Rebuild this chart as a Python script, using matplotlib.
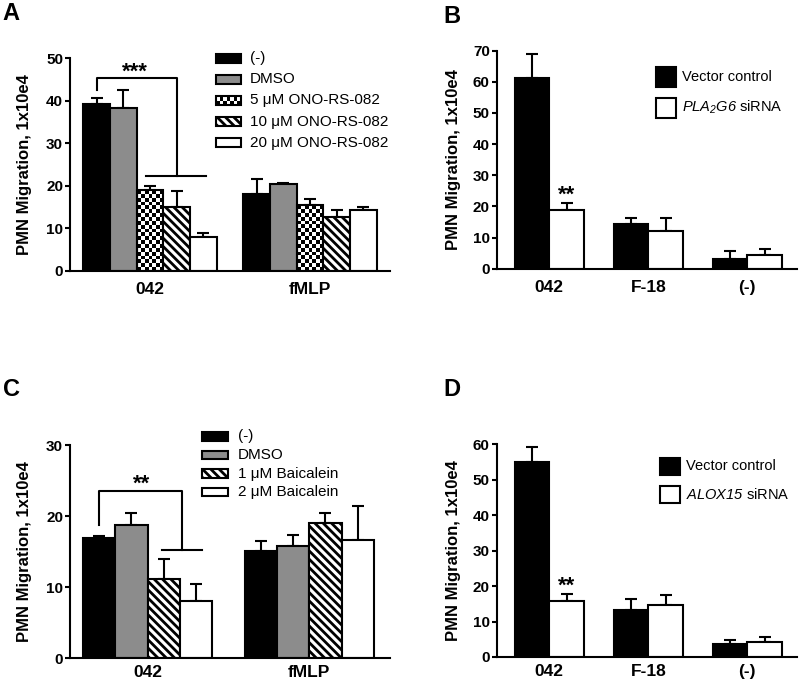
import numpy as np
import matplotlib
matplotlib.use("Agg")
import matplotlib.pyplot as plt
from matplotlib.patches import Rectangle

plt.rcParams['font.family'] = ['Liberation Sans', 'DejaVu Sans']
plt.rcParams['mathtext.fontset'] = 'custom'
# gene names are fully italic (digits too), so both math fonts are italic
plt.rcParams['mathtext.rm'] = 'Liberation Sans:italic'
plt.rcParams['mathtext.it'] = 'Liberation Sans:italic'
plt.rcParams['hatch.linewidth'] = 2.0

# ---- data ----
# panel A: treatments x groups
a_groups = ['042', 'fMLP']
a_treat = ['(-)', 'DMSO', '5 μM ONO-RS-082', '10 μM ONO-RS-082', '20 μM ONO-RS-082']
a_mean = [[39.2, 18.1], [38.3, 20.5], [19.0, 15.5], [15.0, 12.6], [7.9, 14.4]]
a_err = [[1.5, 3.6], [4.2, 0.2], [1.0, 1.4], [3.8, 1.7], [0.9, 0.7]]

# panel B
b_groups = ['042', 'F-18', '(-)']
b_series = ['Vector control', r'$PLA_{2}G6$ siRNA']
b_mean = [[61.2, 14.4, 3.0], [19.0, 12.2, 4.3]]
b_err = [[7.8, 1.9, 2.7], [2.2, 4.0, 1.9]]

# panel C
c_groups = ['042', 'fMLP']
c_treat = ['(-)', 'DMSO', '1 μM Baicalein', '2 μM Baicalein']
c_mean = [[16.9, 15.1], [18.7, 15.8], [11.2, 19.0], [8.1, 16.7]]
c_err = [[0.3, 1.4], [1.8, 1.6], [2.7, 1.5], [2.3, 4.7]]

# panel D
d_groups = ['042', 'F-18', '(-)']
d_series = ['Vector control', r'$ALOX15$ siRNA']
d_mean = [[55.1, 13.3, 3.7], [15.7, 14.8, 4.1]]
d_err = [[4.1, 3.1, 1.1], [2.0, 2.6, 1.6]]

STYLES = {
    '(-)': dict(face='black', hatch=None, checker=False),
    'DMSO': dict(face='0.55', hatch=None, checker=False),
    'check': dict(face='none', hatch=None, checker=True),
    'hatch': dict(face='white', hatch='\\\\\\\\', checker=False),
    'white': dict(face='white', hatch=None, checker=False),
}
a_styles = ['(-)', 'DMSO', 'check', 'hatch', 'white']
c_styles = ['(-)', 'DMSO', 'hatch', 'white']
bd_styles = ['(-)', 'white']

LW = 1.5
CELL = 3.8  # checker cell in pixels


def checker(ax, patch, x0, y0, w, h, trans):
    p0 = trans.transform((x0, y0))
    p1 = trans.transform((x0 + w, y0 + h))
    nx = max(1, int(round(abs(p1[0] - p0[0]) / CELL)))
    ny = max(1, int(round(abs(p1[1] - p0[1]) / CELL)))
    arr = (np.add.outer(np.arange(ny), np.arange(nx)) % 2).astype(float)
    im = ax.imshow(arr, cmap='gray', extent=[x0, x0 + w, y0, y0 + h],
                   aspect='auto', interpolation='nearest', origin='lower',
                   transform=trans, zorder=1.5)
    im.set_clip_path(patch)


def bars(ax, xs, vals, errs, width, style):
    st = STYLES[style]
    bc = ax.bar(xs, vals, width=width, color=st['face'], edgecolor='black',
                linewidth=LW, hatch=st['hatch'], zorder=2,
                yerr=[np.zeros(len(errs)), errs], capsize=4.5,
                error_kw=dict(elinewidth=LW, capthick=LW, ecolor='black', zorder=1))
    if st['checker']:
        for r in bc:
            checker(ax, r, r.get_x(), 0, r.get_width(), r.get_height(), ax.transData)


def legend(ax, labels, styles, x0, ys, w, h, tx, fs):
    for lab, s, y in zip(labels, styles, ys):
        st = STYLES[s]
        r = Rectangle((x0, y - h / 2), w, h, transform=ax.transAxes, clip_on=False,
                      facecolor=st['face'], edgecolor='black', linewidth=LW,
                      hatch=st['hatch'], zorder=5)
        ax.add_patch(r)
        if st['checker']:
            checker(ax, r, x0, y - h / 2, w, h, ax.transAxes)
        ax.text(tx, y, lab, transform=ax.transAxes, va='center', ha='left',
                fontsize=fs)


def style_axes(ax, ylim, yticks, xt, xl, pad=8, lab_y=0.5, lab_x=-0.118):
    ax.set_ylim(*ylim)
    ax.set_yticks(yticks)
    ax.set_xticks(xt)
    ax.set_xticklabels(xl, fontsize=12.5, fontweight='bold')
    for t in ax.get_yticklabels():
        t.set_fontweight('bold')
    ax.tick_params(axis='y', labelsize=11, length=3.5, width=LW, pad=1.5)
    ax.tick_params(axis='x', length=0, pad=pad)
    for s in ['top', 'right']:
        ax.spines[s].set_visible(False)
    for s in ['left', 'bottom']:
        ax.spines[s].set_linewidth(LW)
    ax.set_ylabel('PMN Migration, 1x10e4', fontsize=12, fontweight='bold')
    ax.yaxis.set_label_coords(lab_x, lab_y)


fig = plt.figure(figsize=(8, 6.84), dpi=100)

# ---------- A ----------
axA = fig.add_axes([0.0875, 0.604, 0.4, 0.311])
axA.set_xlim(-1, 11)
axA.set_ylim(0, 50)
axA.set_autoscale_on(False)
for i, s in enumerate(a_styles):
    bars(axA, [i, i + 6], a_mean[i], a_err[i], 1.0, s)
style_axes(axA, (0, 50), [0, 10, 20, 30, 40, 50], [2, 8], a_groups)
axA.plot([0, 0, 3, 3], [42.5, 45.3, 45.3, 22.4], color='black', lw=LW, clip_on=False)
axA.plot([1.86, 4.1], [22.4, 22.4], color='black', lw=LW)
axA.text(1.45, 45.4, '***', ha='center', va='baseline', fontsize=16, fontweight='bold')
legend(axA, a_treat, a_styles, 0.456, [0.999, 0.901, 0.803, 0.701, 0.602],
       0.078, 0.042, 0.5625, 11)

# ---------- B ----------
axB = fig.add_axes([0.621, 0.607, 0.375, 0.319])
axB.set_xlim(-0.53, 2.5)
axB.set_ylim(0, 70)
axB.set_autoscale_on(False)
gx = np.arange(3)
for i, s in enumerate(bd_styles):
    bars(axB, gx - 0.175 + 0.35 * i, b_mean[i], b_err[i], 0.35, s)
style_axes(axB, (0, 70), range(0, 71, 10), gx, b_groups)
axB.text(0.175, 21.8, '**', ha='center', va='baseline', fontsize=16, fontweight='bold')
legend(axB, b_series, bd_styles, 0.531, [0.881, 0.739], 0.066, 0.092, 0.617, 10.5)

# ---------- C ----------
axC = fig.add_axes([0.0875, 0.038, 0.4, 0.311])
axC.set_xlim(-0.9, 9.0)
axC.set_ylim(0, 30)
axC.set_autoscale_on(False)
for i, s in enumerate(c_styles):
    bars(axC, [i, i + 5], c_mean[i], c_err[i], 1.0, s)
style_axes(axC, (0, 30), [0, 10, 20, 30], [1.5, 6.5], c_groups, pad=5)
axC.plot([0, 0, 2.55, 2.55], [18.7, 23.5, 23.5, 15.3], color='black', lw=LW)
axC.plot([1.96, 3.17], [15.3, 15.3], color='black', lw=LW)
axC.text(1.3, 23.8, '**', ha='center', va='baseline', fontsize=16, fontweight='bold')
legend(axC, c_treat, c_styles, 0.4125, [1.042, 0.955, 0.867, 0.78],
       0.081, 0.04, 0.525, 11)

# ---------- D ----------
axD = fig.add_axes([0.621, 0.0395, 0.375, 0.311])
axD.set_xlim(-0.53, 2.5)
axD.set_ylim(0, 60)
axD.set_autoscale_on(False)
for i, s in enumerate(bd_styles):
    bars(axD, gx - 0.175 + 0.35 * i, d_mean[i], d_err[i], 0.35, s)
style_axes(axD, (0, 60), range(0, 61, 10), gx, d_groups, pad=5)
axD.text(0.175, 18.5, '**', ha='center', va='baseline', fontsize=16, fontweight='bold')
legend(axD, d_series, bd_styles, 0.545, [0.897, 0.762], 0.066, 0.08, 0.63, 10.5)

# panel letters
for x, y, t in [(0.003, 0.997, 'A'), (0.554, 0.993, 'B'),
                (0.004, 0.447, 'C'), (0.554, 0.447, 'D')]:
    fig.text(x, y, t, ha='left', va='top', fontsize=17, fontweight='bold')

fig.savefig('out.png', dpi=100)
